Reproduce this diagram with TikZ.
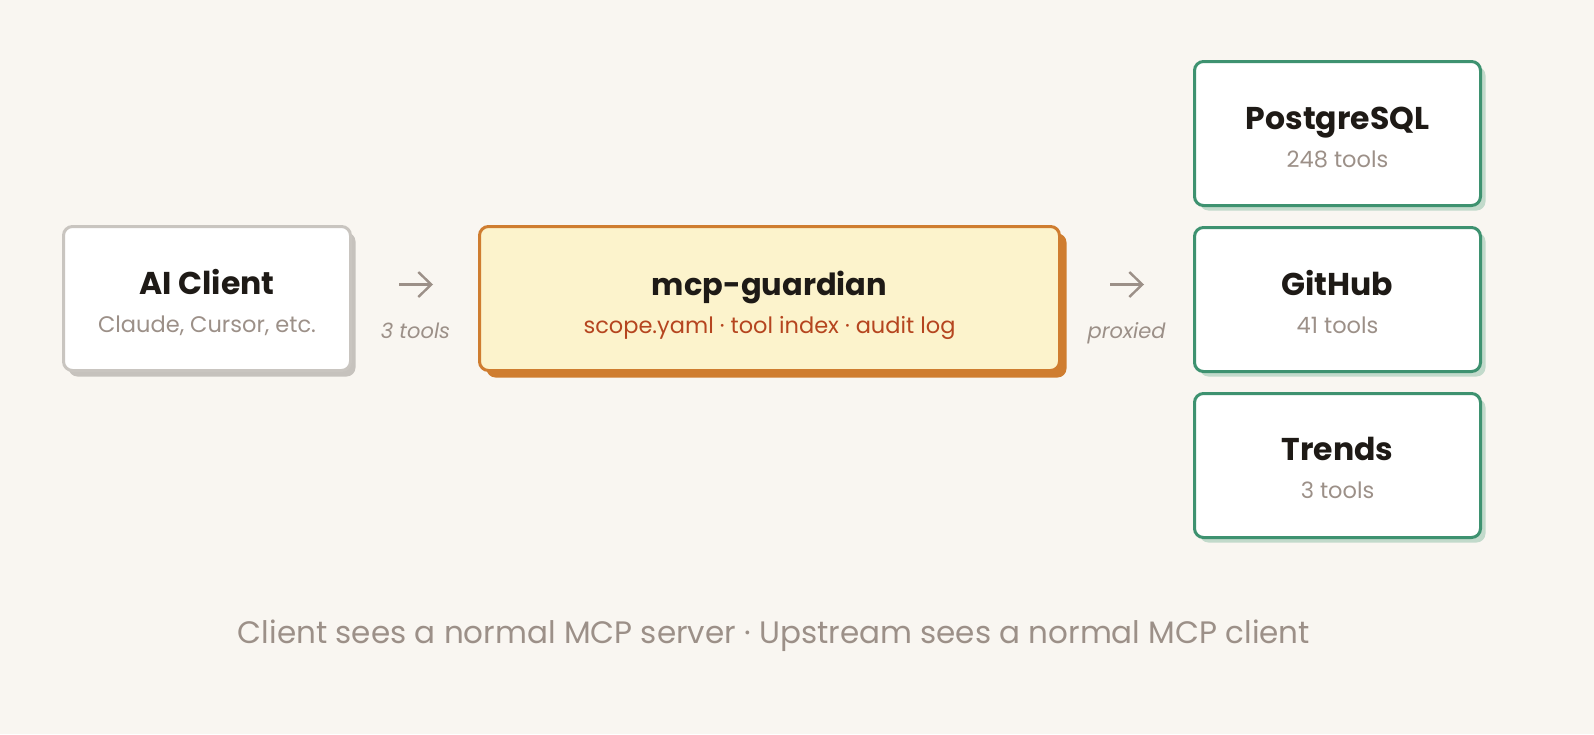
\documentclass[tikz,border=0pt]{standalone}
\usepackage{fontspec}
\setmainfont{Poppins}
\usetikzlibrary{arrows.meta,shadows}
\definecolor{bg}{HTML}{F9F6F1}
\definecolor{ink}{HTML}{1E1A16}
\definecolor{muted}{HTML}{9C9088}
\definecolor{grayline}{HTML}{C9C5C0}
\definecolor{grayshadow}{HTML}{C6C2BD}
\definecolor{orangeline}{HTML}{CF7D30}
\definecolor{orangefill}{HTML}{FCF3CC}
\definecolor{rust}{HTML}{B5451F}
\definecolor{greenline}{HTML}{3E9270}
\definecolor{greenshadow}{HTML}{C2DACB}
\tikzset{
  box/.style={draw, line width=3pt, rounded corners=9pt, inner sep=0pt, outer sep=0pt},
  clientbox/.style={box, draw=grayline, fill=white, minimum width=287pt, minimum height=144pt,
     drop shadow={fill=grayshadow, opacity=1, shadow xshift=5pt, shadow yshift=-6pt}},
  guardbox/.style={box, draw=orangeline, fill=orangefill, minimum width=580pt, minimum height=144pt,
     drop shadow={fill=orangeline, opacity=1, shadow xshift=7pt, shadow yshift=-7pt}},
  upbox/.style={box, draw=greenline, fill=white, minimum width=286pt, minimum height=144pt,
     drop shadow={fill=greenshadow, opacity=1, shadow xshift=5pt, shadow yshift=-5pt}},
  ttl/.style={text=ink, font=\fontsize{31.5}{36}\selectfont\bfseries, inner sep=0pt, anchor=base},
  sub/.style={text=muted, font=\fontsize{22.5}{27}\selectfont, inner sep=0pt, anchor=base},
  gsub/.style={text=rust, font=\fontsize{22.5}{27}\selectfont, inner sep=0pt, anchor=base},
  elab/.style={text=muted, font=\fontsize{21}{25}\selectfont\itshape, inner sep=0pt, anchor=base},
  arr/.style={draw=muted, line width=2.4pt, -{Straight Barb[length=13pt,width=25pt,line width=2.4pt]}},
  note/.style={text=muted, font=\fontsize{31}{36}\selectfont, inner sep=0pt, anchor=base},
}
\begin{document}
\begin{tikzpicture}[x=1pt,y=-1pt]
  \fill[bg] (0,0) rectangle (1594,734);
  \useasboundingbox (0,0) rectangle (1594,734);

  % client
  \node[clientbox] (client) at (207,298.5) {};
  \node[ttl] (clientT) at (207,294) {AI Client};
  \node[sub] (clientS) at (207,332) {Claude, Cursor, etc.};

  % guardian
  \node[guardbox] (guard) at (769.5,298.5) {};
  \node[ttl, font=\fontsize{30.5}{36}\selectfont\bfseries] (guardT) at (769.5,295) {mcp-guardian};
  \node[gsub] (guardS) at (769.5,333) {scope.yaml · tool index · audit log};

  % upstreams
  \node[upbox] (pg) at (1337.5,133.5) {};
  \node[ttl] (pgT) at (1337.5,129) {PostgreSQL};
  \node[sub] (pgS) at (1337.5,167) {248 tools};

  \node[upbox] (gh) at (1337.5,299.5) {};
  \node[ttl] (ghT) at (1337.5,295) {GitHub};
  \node[sub] (ghS) at (1337.5,333) {41 tools};

  \node[upbox] (tr) at (1337.5,465.5) {};
  \node[ttl] (trT) at (1337.5,460.5) {Trends};
  \node[sub] (trS) at (1337.5,498.5) {3 tools};

  % arrows
  \coordinate (a1s) at (399,284.5);
  \coordinate (a1e) at (433,284.5);
  \draw[arr] (a1s) -- (a1e);
  \node[elab] (a1l) at (415.5,338) {3 tools};

  \coordinate (a2s) at (1110,284.5);
  \coordinate (a2e) at (1144,284.5);
  \draw[arr] (a2s) -- (a2e);
  \node[elab] (a2l) at (1126.5,338) {proxied};

  \node[note] (foot) at (774,643) {Client sees a normal MCP server · Upstream sees a normal MCP client};
\end{tikzpicture}
\end{document}
